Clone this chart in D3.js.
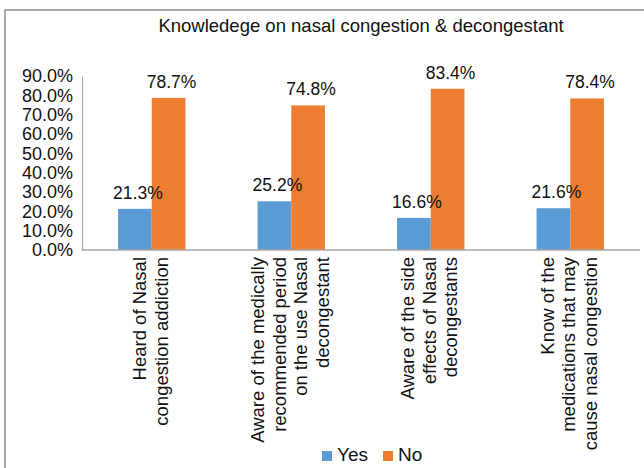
<!DOCTYPE html>
<html>
<head>
<meta charset="utf-8">
<script src="https://cdn.jsdelivr.net/npm/d3@7/dist/d3.min.js"></script>
<style>
  html, body { margin: 0; padding: 0; background: #ffffff; }
  svg { display: block; }
  text { font-family: "Liberation Sans", Arial, sans-serif; fill: #111111; }
</style>
</head>
<body>
<div id="chart"></div>
<script>
// Survey responses on nasal congestion and decongestants
const categories = [
  ["Heard of Nasal", "congestion addiction"],
  ["Aware of the medically", "recommended period", "on the use Nasal", "decongestant"],
  ["Aware of the side", "effects of Nasal", "decongestants"],
  ["Know of the", "medications that may", "cause nasal congestion"]
];
const seriesNames = ["Yes", "No"];
const yesValues = [0.213, 0.252, 0.166, 0.216];
const noValues  = [0.787, 0.748, 0.834, 0.784];
const yTicks = [0, 0.1, 0.2, 0.3, 0.4, 0.5, 0.6, 0.7, 0.8, 0.9];
const colors = ["#5B9BD5", "#ED7D31"];
const title = "Knowledege on nasal congestion & decongestant";

const W = 644, H = 468;
const plot = { left: 82, right: 640, top: 76, bottom: 250 };

const svg = d3.select("#chart").append("svg")
  .attr("width", W).attr("height", H);

// chart frame (top and left edges visible)
svg.append("path")
  .attr("d", `M5,${H + 2} L5,10 L${W + 2},10`)
  .attr("fill", "none").attr("stroke", "#8c8c8c").attr("stroke-width", 1.5);

svg.append("text")
  .attr("x", 361).attr("y", 32)
  .attr("text-anchor", "middle")
  .attr("font-size", 18.5)
  .text(title);

const catIds = categories.map((c, i) => i);
const x0 = d3.scaleBand().domain(catIds)
  .range([plot.left, plot.right])
  .paddingInner(0.517).paddingOuter(0.2585);
const x1 = d3.scaleBand().domain(seriesNames).range([0, x0.bandwidth()]);
const y = d3.scaleLinear().domain([0, 0.9]).range([plot.bottom, plot.top]);

const fmt = d3.format(".1%");

// y axis: labels only, with a plain axis line
const yAxis = d3.axisLeft(y).tickValues(yTicks).tickFormat(fmt).tickSize(0).tickPadding(9);
const gy = svg.append("g").attr("transform", `translate(${plot.left},0)`).call(yAxis);
gy.select(".domain").attr("stroke", "#a6a6a6").attr("stroke-width", 1.2);
gy.selectAll("text").attr("font-size", 18).attr("font-family", null).attr("fill", "#111111");

// bars
const rows = catIds.map(i => ({ i, values: [yesValues[i], noValues[i]] }));
const groups = svg.append("g").selectAll("g").data(rows).join("g")
  .attr("transform", d => `translate(${x0(d.i)},0)`);

groups.selectAll("rect")
  .data(d => d.values.map((v, k) => ({ key: seriesNames[k], v, k })))
  .join("rect")
  .attr("x", d => x1(d.key))
  .attr("y", d => y(d.v))
  .attr("width", x1.bandwidth())
  .attr("height", d => y(0) - y(d.v))
  .attr("fill", d => colors[d.k]);

groups.selectAll("text.lbl")
  .data(d => d.values.map((v, k) => ({ key: seriesNames[k], v, k })))
  .join("text")
  .attr("class", "lbl")
  .attr("x", d => x1(d.key) + x1.bandwidth() / 2 + 3)
  .attr("y", d => y(d.v) - 10)
  .attr("text-anchor", "middle")
  .attr("font-size", 17.5)
  .text(d => fmt(d.v));

// x axis baseline
svg.append("line")
  .attr("x1", plot.left).attr("x2", plot.right)
  .attr("y1", plot.bottom).attr("y2", plot.bottom)
  .attr("stroke", "#a6a6a6").attr("stroke-width", 1.5);

// rotated category labels
const lineH = 21.5;
catIds.forEach(i => {
  const lines = categories[i];
  const cx = x0(i) + x0.bandwidth() / 2;
  lines.forEach((ln, j) => {
    const bx = cx + (j - (lines.length - 1) / 2) * lineH + 5;
    svg.append("text")
      .attr("transform", `translate(${bx},257) rotate(-90)`)
      .attr("text-anchor", "end")
      .attr("font-size", 18.5)
      .text(ln);
  });
});

// legend
const legend = svg.append("g");
const legendItems = [
  { name: seriesNames[0], color: colors[0], x: 322 },
  { name: seriesNames[1], color: colors[1], x: 383 }
];
legendItems.forEach(it => {
  legend.append("rect").attr("x", it.x).attr("y", 451).attr("width", 10).attr("height", 10).attr("fill", it.color);
  legend.append("text").attr("x", it.x + 15).attr("y", 461).attr("font-size", 19).text(it.name);
});
</script>
</body>
</html>
